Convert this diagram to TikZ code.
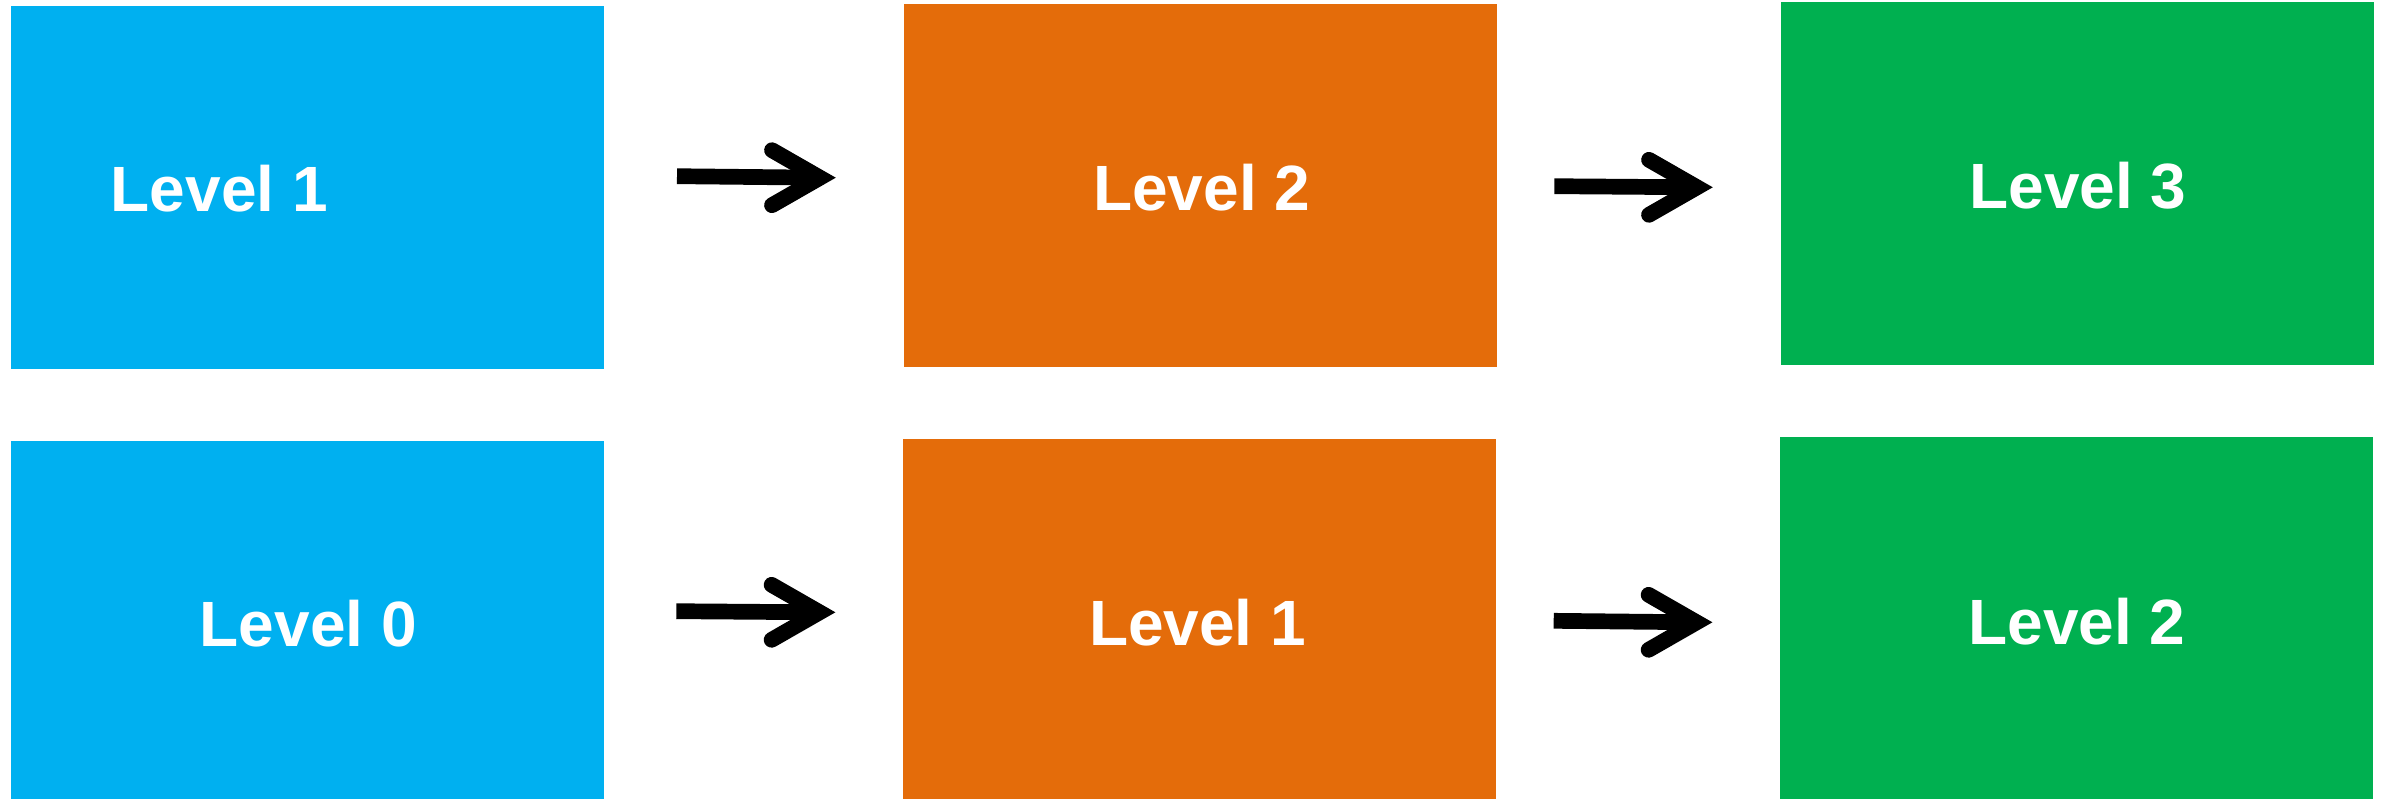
\documentclass[tikz,border=0pt]{standalone}
\usepackage{fontspec}
\setmainfont{Liberation Sans}
\definecolor{lvblue}{HTML}{00B0F0}
\definecolor{lvorange}{HTML}{E46C0A}
\definecolor{lvgreen}{HTML}{00B050}
\tikzset{
  box/.style={rectangle, draw=none, inner sep=0pt, outer sep=0pt, anchor=north west, minimum width=593pt},
  lbl/.style={text=white, inner sep=0pt, anchor=base, font=\fontsize{64}{76}\selectfont\bfseries},
  shaft/.style={line width=15.7pt, line cap=butt},
  barb/.style={line width=15.7pt, line cap=round, line join=miter, miter limit=10},
}
\begin{document}
\begin{tikzpicture}[x=1pt,y=-1pt]
\useasboundingbox (0,0) rectangle (2384,798);
% boxes
\node[box, fill=lvblue, minimum height=362.7pt] (b1t) at (11,6) {};
\node[box, fill=lvorange, minimum height=362.7pt] (o2t) at (904,4) {};
\node[box, fill=lvgreen, minimum height=362.7pt] (g3t) at (1781,2) {};
\node[box, fill=lvblue, minimum height=360pt] (b0b) at (11,441) {};
\node[box, fill=lvorange, minimum height=362pt] (o1b) at (903,439) {};
\node[box, fill=lvgreen, minimum height=364pt] (g2b) at (1780,437) {};
% labels
\node[lbl] (t1) at (219.4,211.7) {Level 1};
\node[lbl] (t2) at (1201.7,210.7) {Level 2};
\node[lbl] (t3) at (2078,208.3) {Level 3};
\node[lbl] (t4) at (308.3,646.7) {Level 0};
\node[lbl] (t5) at (1197.5,645) {Level 1};
\node[lbl] (t6) at (2077,644.6) {Level 2};
% arrow coordinates
\coordinate (a1s) at (677,176.2);   \coordinate (a1t) at (820,177.7);
\coordinate (a2s) at (1554.3,186.2); \coordinate (a2t) at (1697,187.3);
\coordinate (a3s) at (676.3,611.2); \coordinate (a3t) at (819.6,612.3);
\coordinate (a4s) at (1553.7,620.8); \coordinate (a4t) at (1696.6,622.3);
\foreach \a in {a1,a2,a3,a4}{
  \draw[shaft] (\a s) -- (\a t);
  \draw[barb] ([shift={(-48,-27.5)}]\a t) -- (\a t) -- ([shift={(-48,27.5)}]\a t);
}
\end{tikzpicture}
\end{document}
